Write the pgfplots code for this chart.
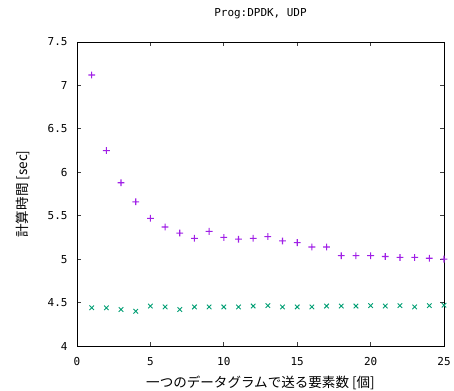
\documentclass[border=0pt]{standalone}
\usepackage{fontspec}
\usepackage{pgfplots}
\pgfplotsset{compat=1.18}
\setmainfont{DejaVu Sans}
\newfontfamily\cjk{Noto Sans CJK JP}
\newfontfamily\mono{DejaVu Sans Mono}
\definecolor{gpviolet}{RGB}{160,32,230}
\definecolor{gpgreen}{RGB}{0,158,115}
\pgfdeclareplotmark{fplus}{%
  \pgfpathrectangle{\pgfpoint{-\pgfplotmarksize}{-0.55bp}}{\pgfpoint{2\pgfplotmarksize}{1.1bp}}%
  \pgfpathrectangle{\pgfpoint{-0.55bp}{-\pgfplotmarksize}}{\pgfpoint{1.1bp}{2\pgfplotmarksize}}%
  \pgfusepathqfill}
\begin{document}
\begin{tikzpicture}[x=1bp,y=1bp]
\useasboundingbox (0,0) rectangle (454,390);
\begin{axis}[
  at={(77bp,44bp)}, anchor=south west,
  scale only axis, width=367bp, height=304bp,
  xmin=0, xmax=25, ymin=4, ymax=7.5,
  xtick={0,5,10,15,20,25},
  ytick={4,4.5,5,5.5,6,6.5,7,7.5},
  tick align=inside, major tick length=4bp,
  axis line style={line width=0.9bp},
  tick style={line width=0.8bp, color=black!75},
  /pgf/number format/assume math mode=true,
  ticklabel style={font=\mono\fontsize{11}{13}\selectfont},
  xticklabel style={anchor=base, yshift=-19bp},
  yticklabel style={anchor=east, xshift=-6bp},
  title={Prog:DPDK, UDP},
  title style={font=\mono\fontsize{11}{13}\selectfont, at={(0.5,1)}, anchor=base, yshift=20bp},
  xlabel={\cjk 一つのデータグラムで送る要素数 [個]},
  xlabel style={font=\fontsize{13.6}{15}\selectfont, at={(0.5,0)}, anchor=base, yshift=-41bp},
  ylabel={\cjk 計算時間 [sec]},
  ylabel style={font=\fontsize{13.6}{15}\selectfont, at={(0,0.5)}, anchor=center, yshift=54bp},
  clip=false,
]
\addplot[gpviolet, only marks, mark=fplus, mark size=3.4bp, mark options={solid, fill=gpviolet, draw=none}] coordinates {
(1,7.12)(2,6.25)(3,5.88)(4,5.66)(5,5.47)(6,5.37)(7,5.30)(8,5.24)(9,5.32)(10,5.25)
(11,5.23)(12,5.24)(13,5.26)(14,5.21)(15,5.19)(16,5.14)(17,5.14)(18,5.04)(19,5.04)(20,5.04)
(21,5.03)(22,5.02)(23,5.02)(24,5.01)(25,5.00)};
\addplot[gpgreen, only marks, mark=x, mark size=3.2bp, mark options={solid, gpgreen, line width=0.9bp}] coordinates {
(1,4.44)(2,4.44)(3,4.42)(4,4.40)(5,4.46)(6,4.45)(7,4.42)(8,4.45)(9,4.45)(10,4.45)
(11,4.45)(12,4.46)(13,4.465)(14,4.45)(15,4.45)(16,4.45)(17,4.46)(18,4.46)(19,4.46)(20,4.465)
(21,4.46)(22,4.465)(23,4.45)(24,4.465)(25,4.47)};
\end{axis}
\end{tikzpicture}
\end{document}
